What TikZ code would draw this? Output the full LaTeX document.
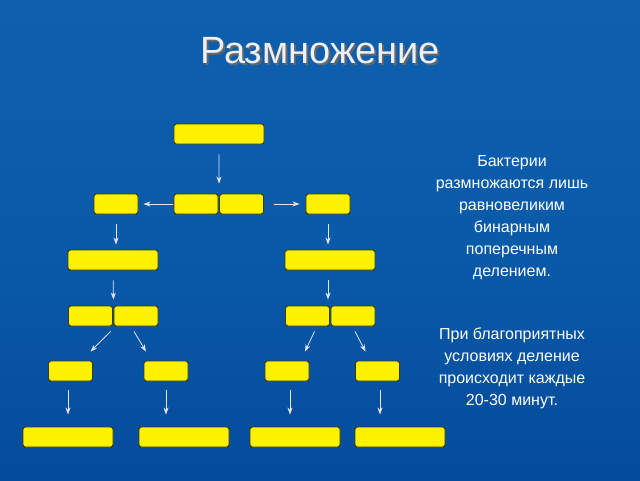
\documentclass[tikz,border=0pt]{standalone}
\usepackage{fontspec}
\setmainfont{Liberation Sans}
\usetikzlibrary{arrows.meta}
\begin{document}
\begin{tikzpicture}[x=1pt,y=-1pt,
  bx/.style={draw={rgb,255:red,60;green,60;blue,0},line width=0.9pt,fill=yellow,rounded corners=2.5pt,minimum height=20pt,inner sep=0pt},
  bs/.style={bx,minimum width=44pt},
  bl/.style={bx,minimum width=90pt},
  arr/.style={draw=blue!10!white,line width=0.8pt,-{Stealth[length=7pt,width=5pt]}}]
\shade[top color={rgb,255:red,15;green,95;blue,175},bottom color={rgb,255:red,5;green,75;blue,155},middle color={rgb,255:red,10;green,90;blue,170}] (0,0) rectangle (640,480);
\useasboundingbox (0,0) rectangle (640,480);
\node[text=black!60,font=\fontsize{38}{42}\selectfont] at (322,53) {Размножение};
\node[text={rgb,255:red,235;green,240;blue,250},font=\fontsize{38}{42}\selectfont] (title) at (320,51) {Размножение};
\node[bl] (t) at (219,134) {};
\node[bs] (a1) at (116,204) {};
\node[bs] (a2) at (196,204) {};
\node[bs] (a3) at (241.5,204) {};
\node[bs] (a4) at (328,204) {};
\node[bl] (c1) at (113,260) {};
\node[bl] (c2) at (330,260) {};
\node[bs] (d1) at (90.5,316) {};
\node[bs] (d2) at (136,316) {};
\node[bs] (d3) at (307.5,316) {};
\node[bs] (d4) at (353,316) {};
\node[bs] (e1) at (70.5,371) {};
\node[bs] (e2) at (166,371) {};
\node[bs] (e3) at (287,371) {};
\node[bs] (e4) at (377.5,371) {};
\node[bl] (f1) at (68,437) {};
\node[bl] (f2) at (184,437) {};
\node[bl] (f3) at (295,437) {};
\node[bl] (f4) at (400,437) {};
\draw[arr,shorten <=10pt,shorten >=10pt] (t.south) -- (a3.north west);
\draw[arr,shorten <=1pt,shorten >=5pt] (a2.west) -- (a1.east);
\draw[arr,shorten <=10pt,shorten >=6pt] (a3.east) -- (a4.west);
\draw[arr,shorten <=10pt,shorten >=5pt] (a1.south) -- (c1.north-|a1.south);
\draw[arr,shorten <=10pt,shorten >=5pt] (a4.south) -- (c2.north-|a4.south);
\draw[arr,shorten <=10pt,shorten >=6pt] (c1.south) -- (d2.north west);
\draw[arr,shorten <=10pt,shorten >=6pt] (c2.south-|a4.south) -- (d4.north west-|a4.south);
\draw[arr] ([xshift=20pt,yshift=-5pt]d1.south) -- ([xshift=20pt,yshift=9pt]e1.north);
\draw[arr] ([xshift=-2pt,yshift=-5pt]d2.south) -- ([xshift=-20pt,yshift=9pt]e2.north);
\draw[arr] ([xshift=7pt,yshift=-5pt]d3.south) -- ([xshift=18pt,yshift=9pt]e3.north);
\draw[arr] ([xshift=2pt,yshift=-5pt]d4.south) -- ([xshift=-12pt,yshift=9pt]e4.north);
\draw[arr,shorten <=9pt,shorten >=12pt] (e1.south-|f1.north) -- (f1.north);
\draw[arr,shorten <=9pt,shorten >=12pt] (e2.south) -- (f2.north-|e2.south);
\coordinate (g3) at ([xshift=-5pt]e3.south-|f3.north);
\coordinate (g4) at ([xshift=2.5pt]e4.south);
\draw[arr,shorten <=9pt,shorten >=12pt] (g3) -- (g3|-f3.north);
\draw[arr,shorten <=9pt,shorten >=12pt] (g4) -- (g4|-f4.north);
\node[text=white,align=center,font=\fontsize{16}{22}\selectfont] (txt1) at (512,218) {Бактерии\\размножаются лишь\\равновеликим\\бинарным\\поперечным\\делением.};
\node[text=white,align=center,font=\fontsize{16}{22}\selectfont] (txt2) at (512,368) {При благоприятных\\условиях деление\\происходит каждые\\20-30 минут.};
\end{tikzpicture}
\end{document}
